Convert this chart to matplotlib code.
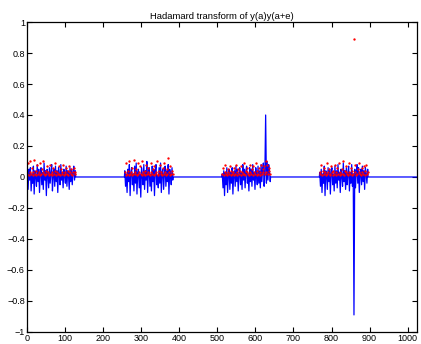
import numpy as np
import matplotlib
matplotlib.use("Agg")
import matplotlib.pyplot as plt

plt.rcParams['font.family'] = ['Liberation Sans', 'DejaVu Sans']

N = 1024
cluster_starts = [0, 256, 512, 768]

blue_c1 = [0.03,-0.08,0.05,-0.02,0.06,-0.09,0.02,-0.04,0.07,-0.11,0.04,0.01,-0.06,0.08,-0.03,0.05,
           -0.10,0.02,0.06,-0.05,0.03,-0.08,0.09,-0.02,0.04,-0.12,0.05,0.02,-0.07,0.06,-0.04,0.03,
           0.08,-0.09,0.01,0.05,-0.06,0.07,-0.03,0.04,-0.10,0.06,0.02,-0.05,0.08,-0.02,0.03,-0.07,
           0.05,0.01,-0.04,0.07,-0.06,0.04,0.02,-0.08,0.06,-0.03,0.05,-0.05,0.03,0.07,-0.02,0.04]
blue_c2 = [0.04,-0.06,0.02,-0.10,0.05,-0.03,0.08,-0.12,0.03,0.06,-0.05,0.02,-0.09,0.07,-0.04,0.09,
           -0.11,0.03,0.05,-0.07,0.02,-0.13,0.06,0.01,-0.05,0.08,-0.08,0.04,-0.02,0.10,-0.10,0.03,
           0.06,-0.06,0.02,-0.09,0.07,-0.03,0.05,-0.12,0.04,0.08,-0.05,0.01,-0.07,0.06,-0.04,0.09,
           -0.10,0.03,0.05,-0.08,0.02,0.07,-0.06,0.04,-0.03,0.08,-0.11,0.05,0.02,-0.05,0.06,-0.02]
blue_c3 = [0.02,-0.07,0.04,-0.12,0.03,-0.05,0.06,-0.10,0.02,0.05,-0.08,0.03,-0.04,0.06,-0.11,0.02,
           0.04,-0.06,0.07,-0.03,0.05,-0.09,0.02,0.06,-0.05,0.03,-0.08,0.08,-0.02,0.05,-0.07,0.04,
           0.07,-0.04,0.02,-0.09,0.06,-0.03,0.05,-0.06,0.08,-0.02,0.03,-0.08,0.06,0.01,-0.05,0.07,
           -0.04,0.04,-0.07,0.08,-0.03,0.05,0.09,-0.06,0.03,0.40,-0.04,0.10,-0.02,0.08,0.04,-0.03]
blue_c4 = [0.03,-0.06,0.05,-0.10,0.02,-0.04,0.07,-0.12,0.04,0.02,-0.08,0.06,-0.03,0.05,-0.11,0.03,
           0.06,-0.05,0.02,-0.09,0.07,-0.04,0.04,-0.07,0.08,-0.02,0.03,-0.10,0.05,0.01,-0.06,0.09,
           -0.03,0.04,-0.08,0.06,-0.05,0.02,0.07,-0.09,0.03,-0.04,0.08,-0.06,0.02,-0.89,0.05,-0.07,
           0.03,0.08,-0.04,0.06,-0.10,0.02,0.05,-0.05,0.07,-0.03,0.04,-0.08,0.06,0.02,-0.04,0.05]

red_c1 = [0.02,0.09,0.01,0.03,0.10,0.02,0.06,0.01,0.03,0.11,0.02,0.04,0.01,0.08,0.02,0.03,
          0.09,0.01,0.02,0.05,0.03,0.10,0.02,0.01,0.04,0.02,0.07,0.03,0.01,0.02,0.08,0.02,
          0.03,0.01,0.06,0.02,0.04,0.09,0.01,0.03,0.02,0.07,0.02,0.01,0.05,0.03,0.02,0.08,
          0.01,0.03,0.02,0.06,0.02,0.04,0.01,0.07,0.03,0.02,0.05,0.01,0.03,0.06,0.02,0.03]
red_c2 = [0.03,0.01,0.09,0.02,0.04,0.01,0.10,0.02,0.03,0.06,0.01,0.02,0.11,0.03,0.02,0.05,
          0.01,0.09,0.02,0.03,0.07,0.02,0.01,0.10,0.03,0.02,0.04,0.01,0.08,0.02,0.03,0.06,
          0.02,0.01,0.09,0.03,0.02,0.05,0.01,0.07,0.02,0.03,0.10,0.01,0.02,0.04,0.08,0.02,
          0.03,0.01,0.06,0.02,0.09,0.03,0.01,0.05,0.02,0.12,0.03,0.01,0.07,0.02,0.04,0.02]
red_c3 = [0.02,0.06,0.01,0.03,0.08,0.02,0.01,0.05,0.03,0.02,0.07,0.01,0.04,0.02,0.03,0.06,
          0.01,0.02,0.08,0.03,0.01,0.05,0.02,0.04,0.07,0.01,0.03,0.02,0.09,0.02,0.01,0.04,
          0.03,0.06,0.02,0.01,0.08,0.03,0.02,0.05,0.01,0.07,0.03,0.02,0.09,0.01,0.04,0.02,
          0.06,0.03,0.01,0.08,0.02,0.05,0.03,0.07,0.02,0.10,0.03,0.08,0.02,0.06,0.04,0.02]
red_c4 = [0.03,0.02,0.08,0.01,0.04,0.02,0.06,0.03,0.01,0.09,0.02,0.03,0.05,0.01,0.02,0.07,
          0.03,0.01,0.04,0.02,0.08,0.03,0.01,0.06,0.02,0.09,0.01,0.03,0.02,0.05,0.10,0.02,
          0.01,0.04,0.03,0.07,0.02,0.01,0.09,0.03,0.02,0.06,0.01,0.04,0.02,0.89,0.03,0.08,
          0.01,0.02,0.05,0.03,0.09,0.02,0.01,0.06,0.03,0.02,0.07,0.01,0.04,0.08,0.02,0.03]

blue_clusters = [blue_c1, blue_c2, blue_c3, blue_c4]
red_clusters = [red_c1, red_c2, red_c3, red_c4]

xticks = list(range(0, 1001, 100))
yticks = [-1, -0.8, -0.6, -0.4, -0.2, 0, 0.2, 0.4, 0.6, 0.8, 1]
ytick_labels = ['\u22121', '\u22120.8', '\u22120.6', '\u22120.4', '\u22120.2', '0',
                '0.2', '0.4', '0.6', '0.8', '1']

# assemble full series: zero outside the clusters
bx = [0.0]
by = [0.0]
rx, ry = [], []
for start, bv, rv in zip(cluster_starts, blue_clusters, red_clusters):
    xs = start + 1 + 2 * np.arange(len(bv))
    bx.extend([start]); by.extend([0.0])
    bx.extend(xs.tolist()); by.extend(bv)
    bx.extend([start + 128]); by.extend([0.0])
    rxs = start + 1 + 2 * np.arange(len(rv))
    rx.extend(rxs.tolist()); ry.extend(rv)
bx.append(N); by.append(0.0)

fig = plt.figure(figsize=(4.21, 3.44), dpi=100)
ax = fig.add_axes([0.064, 0.035, 0.926, 0.901])
ax.plot(bx, by, color='#0000ff', lw=0.9)
ax.plot(rx, ry, '.', color='#ff0000', ms=3.4, mew=0)

ax.set_xlim(0, N)
ax.set_ylim(-1, 1)
ax.set_xticks(xticks)
ax.set_yticks(yticks)
ax.set_yticklabels(ytick_labels)
ax.tick_params(direction='in', length=3.5, width=0.8, top=True, right=True,
               labelsize=6.5, pad=1.5)
for s in ax.spines.values():
    s.set_linewidth(0.9)
ax.set_title('Hadamard transform of y(a)y(a+e)', fontsize=6.8, pad=2)

fig.savefig('out.png', dpi=100)
